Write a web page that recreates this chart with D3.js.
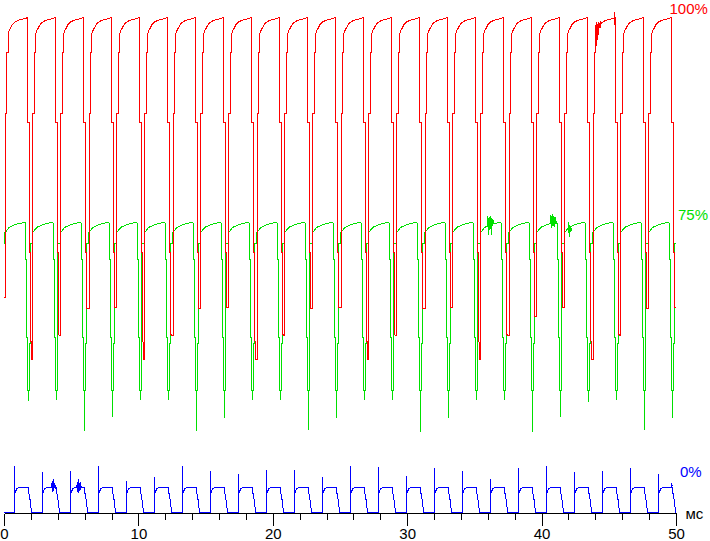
<!DOCTYPE html>
<html>
<head>
<meta charset="utf-8">
<script src="https://cdn.jsdelivr.net/npm/d3@7"></script>
<style>
  body { margin: 0; background: #fff; }
  svg { display: block; }
</style>
</head>
<body>
<script>
var width = 710;
var height = 541;

// ms, red falling edge of each cycle (first one starts before 0)
var fallTimes = [-0.36, 1.70, 3.78, 5.87, 7.95, 10.03, 12.12, 14.20, 16.28, 18.37, 20.45, 22.53,
  24.62, 26.70, 28.78, 30.87, 32.95, 35.03, 37.12, 39.20, 41.28, 43.37, 45.45, 47.53, 49.62];

// per cycle levels (0..100 scale)
var redLow = [43.4, 30.9, 35.8, 41.2, 41.4, 30.9, 35.8, 41.2, 41.4, 30.9, 35.8, 41.2, 41.4,
  30.9, 35.8, 41.2, 41.4, 30.9, 35.8, 39.6, 41.4, 30.9, 35.8, 41.2, 41.4];
var greenLow = [22.6, 22.6, 22.8, 16.6, 19.4, 22.8, 22.8, 16.6, 19.2, 22.8, 22.8, 16.8, 19.2,
  22.8, 22.8, 16.4, 19.2, 22.8, 22.8, 16.4, 19.4, 22.4, 22.8, 16.8, 19.2];
var blueSpike = [9.0, 9.35, 8.14, 8.34, 9.49, 6.46, 7.27, 9.35, 8.34, 7.82, 8.63, 8.63, 7.07,
  9.49, 9.29, 7.47, 8.89, 8.48, 6.67, 8.89, 9.35, 8.14, 8.48, 8.95, 7.82];

// one cycle of each trace: [ms from fall, level], null = the cycle's own level
var redShape = [[0, 100], [0, 78.8], [0.13, 78.8], [0.13, 52.5], [0.22, 52.5], [0.22, 36.2],
  [0.30, 33.7], [0.34, null], [0.42, null], [0.42, 80.6], [0.54, 80.6], [0.54, 92.9],
  [0.63, 92.9], [0.63, 96.8], [0.72, 97.4], [0.95, 98.6], [1.19, 99.2], [1.56, 99.6],
  [1.93, 99.8], [2.06, 100]];
var greenShape = [[-0.17, 58.4], [-0.17, 51.1], [-0.07, 51.1], [-0.07, 35.4], [0, 35.4],
  [0, 24.6], [0.06, 24.6], [0.06, null], [0.08, null], [0.08, 24.6], [0.15, 24.6],
  [0.15, 34.1], [0.20, 34.1], [0.20, 54.3], [0.35, 54.3], [0.35, 56.4], [0.42, 56.6],
  [0.70, 57.6], [1.19, 58.2], [1.82, 58.6], [1.90, 58.6]];
var blueShape = [[-0.97, 0], [-0.97, null], [-0.95, 3.8], [-0.79, 4.8], [-0.60, 5.05],
  [-0.37, 5.15], [0.11, 5.15], [0.11, 4.0], [0.19, 2.8], [0.25, 1.4], [0.33, 0], [1.10, 0]];

// noise bursts
var redGlitch = [[43.97, 93.3], [44.01, 98.4], [44.05, 94.3], [44.08, 99.0], [44.12, 95.4],
  [44.16, 98.6], [44.20, 96.4], [44.23, 99.0], [44.31, 97.8], [44.38, 99.2]];
var redSpike = [[45.40, 98.4], [45.40, 101.2]];
var greenGlitch1 = [[35.90, 57.8], [35.97, 59.8], [36.03, 56.0], [36.07, 59.6], [36.12, 57.0],
  [36.18, 59.8], [36.22, 56.0], [36.27, 59.4], [36.32, 57.8], [36.37, 59.0], [36.42, 58.2]];
var greenGlitch2 = [[40.59, 58.2], [40.66, 60.0], [40.71, 57.4], [40.76, 60.2], [40.81, 57.8],
  [40.86, 59.8], [40.91, 57.6], [40.96, 59.6], [41.03, 58.2], [41.11, 58.8]];
var greenGlitch3 = [[41.93, 56.4], [41.98, 58.6], [42.02, 55.6], [42.07, 58.0], [42.13, 56.6],
  [42.17, 57.4], [42.22, 56.8]];
var blueGlitch1 = [[3.50, 5.05], [3.55, 6.26], [3.59, 4.24], [3.63, 6.67], [3.67, 4.44],
  [3.71, 5.86], [3.76, 4.85], [3.79, 5.45], [3.83, 5.05]];
var blueGlitch2 = [[5.36, 4.85], [5.42, 6.06], [5.47, 4.04], [5.52, 6.67], [5.57, 4.44],
  [5.62, 6.06], [5.67, 4.65], [5.71, 5.45]];
var blueGlitch3 = [[49.59, 5.15], [49.63, 5.66], [49.67, 5.45], [49.70, 5.25]];

var xTicks = [0, 10, 20, 30, 40, 50];
var levelLabels = [
  { text: "100%", color: "#ff0000", x: 669.5, y: 14 },
  { text: "75%", color: "#00e000", x: 678, y: 220 },
  { text: "0%", color: "#0000ff", x: 680, y: 477 }
];

var font = "'Liberation Sans', Arial, sans-serif";

var svg = d3
  .select("body")
  .append("svg")
  .attr("width", width)
  .attr("height", height);

var x = d3.scaleLinear().domain([0, 50]).range([4.5, 676.5]);
var y = d3.scaleLinear().domain([0, 100]).range([512.5, 17.5]);

svg
  .append("defs")
  .append("clipPath")
  .attr("id", "plot")
  .append("rect")
  .attr("x", x(0) - 0.5)
  .attr("y", 0)
  .attr("width", x(50) - x(0))
  .attr("height", height);

function buildSeries(shape, levels, clampLow) {
  var pts = [];
  fallTimes.forEach(function (t0, k) {
    shape.forEach(function (p) {
      var v = p[1] === null ? levels[k] : p[1];
      if (clampLow) v = Math.max(v, levels[k]);
      pts.push([t0 + p[0], v]);
    });
  });
  return pts;
}

var line = d3
  .line()
  .x(function (d) { return x(d[0]); })
  .y(function (d) { return y(d[1]); });

var plot = svg.append("g").attr("clip-path", "url(#plot)");

function trace(data, color) {
  plot
    .append("path")
    .datum(data)
    .attr("fill", "none")
    .attr("stroke", color)
    .attr("stroke-width", 1)
    .attr("shape-rendering", "crispEdges")
    .attr("d", line);
}

trace(buildSeries(blueShape, blueSpike, false), "#0000ff");
[blueGlitch1, blueGlitch2, blueGlitch3].forEach(function (g) { trace(g, "#0000ff"); });
trace(buildSeries(greenShape, greenLow, true), "#00e000");
[greenGlitch1, greenGlitch2, greenGlitch3].forEach(function (g) { trace(g, "#00e000"); });
trace(buildSeries(redShape, redLow, true), "#ff0000");
trace(redGlitch, "#ff0000");
trace(redSpike, "#ff0000");

// axis: minor ticks every 2 ms, then major ticks with labels
var minor = svg
  .append("g")
  .attr("transform", "translate(0,513.5)")
  .call(d3.axisBottom(x).ticks(25).tickSize(6).tickSizeOuter(0).tickFormat("").offset(0));
minor.select(".domain").remove();

var major = svg
  .append("g")
  .attr("transform", "translate(0,513.5)")
  .call(d3.axisBottom(x).tickValues(xTicks).tickSize(12).tickSizeOuter(0).tickPadding(3).offset(0));
major.attr("font-size", 15).attr("font-family", font);
svg.selectAll(".tick line, .domain").attr("stroke", "#000").attr("shape-rendering", "crispEdges");
major.selectAll("text").attr("fill", "#000");

svg
  .append("text")
  .attr("x", 685.5)
  .attr("y", 519)
  .attr("font-size", 15)
  .attr("font-family", font)
  .attr("fill", "#000")
  .text("мс");

svg
  .selectAll("text.level")
  .data(levelLabels)
  .enter()
  .append("text")
  .attr("class", "level")
  .attr("x", function (d) { return d.x; })
  .attr("y", function (d) { return d.y; })
  .attr("font-size", 15)
  .attr("font-family", font)
  .attr("fill", function (d) { return d.color; })
  .text(function (d) { return d.text; });
</script>
</body>
</html>
